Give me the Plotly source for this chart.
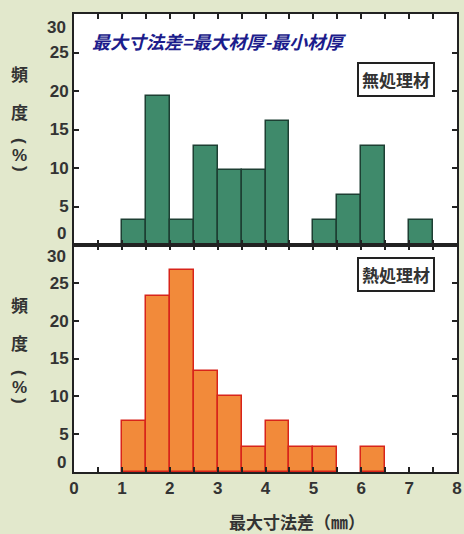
import plotly.graph_objects as go
from plotly.subplots import make_subplots

# Data (bin left edges, width 0.5 mm), frequency in %
bin_left = [1.0, 1.5, 2.0, 2.5, 3.0, 3.5, 4.0, 4.5, 5.0, 5.5, 6.0, 6.5, 7.0]
untreated = [3.2, 19.4, 3.2, 12.9, 9.7, 9.7, 16.1, 0, 3.2, 6.5, 12.9, 0, 3.2]
treated = [6.7, 23.3, 26.7, 13.3, 10.0, 3.3, 6.7, 3.3, 3.3, 0, 3.3, 0, 0]
bin_width = 0.5
x_ticks = [0, 1, 2, 3, 4, 5, 6, 7, 8]
y_ticks = [0, 5, 10, 15, 20, 25, 30]

centers = [b + bin_width / 2 for b in bin_left]

CJK = "Noto Sans CJK JP"
NUM = "Liberation Sans"
TXT = "#333333"

W, H = 464, 534
ML, MR, MT, MB = 74, 7, 14, 62
PW, PH = W - ML - MR, H - MT - MB

fig = make_subplots(rows=2, cols=1, shared_xaxes=True, vertical_spacing=0)

# empty bins are not drawn
fig.add_trace(go.Bar(x=centers, y=[v if v else None for v in untreated], width=bin_width,
                     marker=dict(color="#3f8a6b", line=dict(color="#1d3f33", width=1.5)),
                     showlegend=False), row=1, col=1)
fig.add_trace(go.Bar(x=centers, y=[v if v else None for v in treated], width=bin_width,
                     marker=dict(color="#f28a3a", line=dict(color="#d8241a", width=1.5)),
                     showlegend=False), row=2, col=1)

ax_common = dict(showline=True, linecolor="#222222", linewidth=2, mirror="ticks",
                 ticks="inside", ticklen=5, tickcolor="#222222", tickwidth=1.5,
                 showgrid=False, zeroline=False, automargin=False)

half_ticks = [i * 0.5 for i in range(17)]
fig.update_xaxes(range=[0, 8], tickvals=half_ticks, showticklabels=False, **ax_common)
fig.update_xaxes(row=2, col=1, showticklabels=True,
                 ticktext=[str(int(v)) if v in x_ticks else "" for v in half_ticks],
                 tickfont=dict(family=NUM, size=17, color=TXT, weight="bold"))

mid_labels = [str(v) for v in y_ticks[1:-1]]
fig.update_yaxes(range=[0, 30], tickvals=y_ticks, ticktext=[""] + mid_labels + [""],
                 tickfont=dict(family=NUM, size=17, color=TXT, weight="bold"), **ax_common)

bot_h = 227 / PH
fig.update_layout(
    width=W, height=H,
    margin=dict(l=ML, r=MR, t=MT, b=MB),
    paper_bgcolor="#e2e8cc", plot_bgcolor="#ffffff",
    bargap=0,
    yaxis=dict(domain=[bot_h, 1]),
    yaxis2=dict(domain=[0, bot_h]),
)


def px_x(px):
    return (px - ML) / PW


def px_y(px):
    return (H - MB - px) / PH


anns = []
# edge tick labels shifted like the original
for yref, val, shift in [("y", 30, -13), ("y", 0, 12), ("y2", 30, -11), ("y2", 0, 10)]:
    anns.append(dict(x=0, xref="paper", y=val, yref=yref, text=str(val), showarrow=False,
                     xanchor="right", xshift=-6, yshift=shift,
                     font=dict(family=NUM, size=17, color=TXT, weight="bold")))

# vertical y-axis titles
for chars in [[("頻", 73, 0), ("度", 111, 0), ("(", 141, 90), ("%", 155, 0), (")", 169, 90)],
              [("頻", 304, 0), ("度", 342, 0), ("(", 373, 90), ("%", 387, 0), (")", 401, 90)]]:
    for ch, yy, ang in chars:
        anns.append(dict(x=px_x(20), xref="paper", y=px_y(yy), yref="paper", text=ch,
                         showarrow=False, xanchor="center", yanchor="middle", textangle=ang,
                         font=dict(family=CJK if ch in "頻度" else NUM, size=17, color=TXT,
                                   weight="bold")))

# formula note
anns.append(dict(x=px_x(90), xref="paper", y=px_y(41), yref="paper",
                 text="<i>最大寸法差=最大材厚-最小材厚</i>",
                 showarrow=False, xanchor="left", yanchor="middle",
                 font=dict(family=CJK, size=18, color="#1c1c8c", weight="bold")))

# labels in boxes
for text, yy in [("無処理材", 79), ("熱処理材", 274)]:
    anns.append(dict(x=px_x(396), xref="paper", y=px_y(yy), yref="paper", text=text,
                     showarrow=False, xanchor="center", yanchor="middle",
                     bgcolor="#ffffff", bordercolor="#222222", borderwidth=2, borderpad=3,
                     font=dict(family=CJK, size=17, color=TXT, weight="bold")))

# x-axis title
anns.append(dict(x=px_x(297), xref="paper", y=px_y(521), yref="paper",
                 text="最大寸法差（㎜）", showarrow=False, xanchor="center", yanchor="middle",
                 font=dict(family=CJK, size=17, color=TXT, weight="bold")))

fig.update_layout(annotations=anns)
fig.write_html("out.html", config={"displayModeBar": False},
               post_script="document.body.style.margin='0px';document.body.style.overflow='hidden';")
